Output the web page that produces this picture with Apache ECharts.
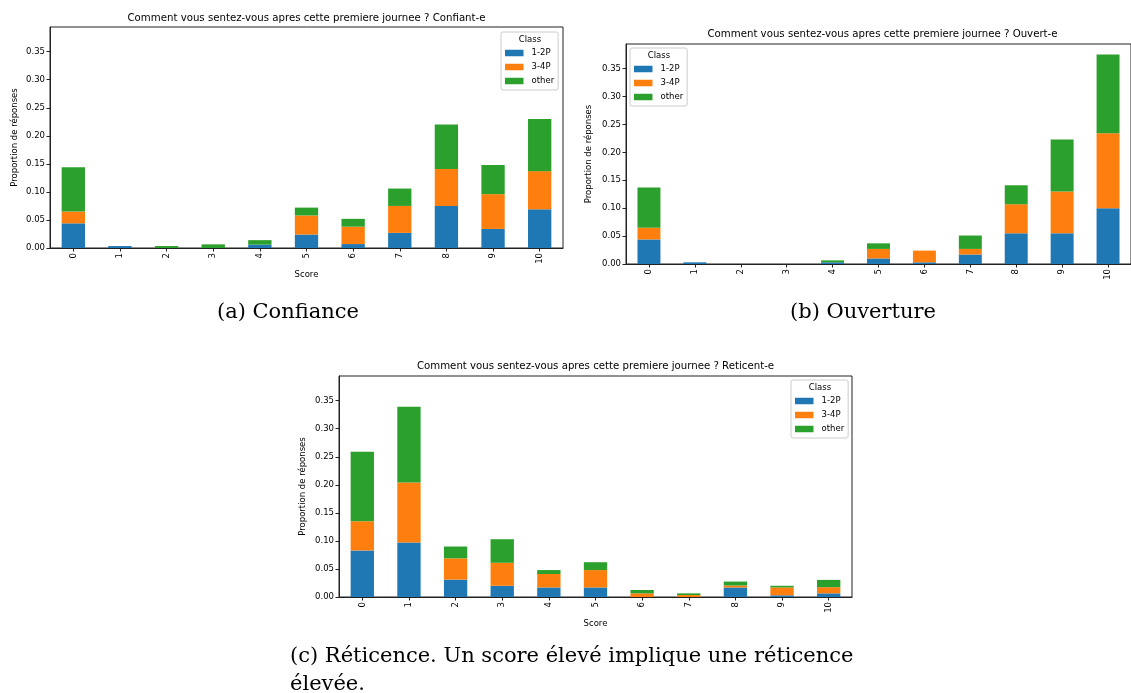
<!DOCTYPE html>
<html>
<head>
<meta charset="utf-8">
<script src="https://cdn.jsdelivr.net/npm/echarts@6/dist/echarts.min.js"></script>
<style>
html,body{margin:0;padding:0;background:#fff;}
#chart{width:1131px;height:693px;}
</style>
</head>
<body>
<div id="chart"></div>
<script>
// ---- data ----
const scores = ['0','1','2','3','4','5','6','7','8','9','10'];
const yTicks = [0, 0.05, 0.10, 0.15, 0.20, 0.25, 0.30, 0.35];
const yMax = 0.394;
const classNames = ['1-2P', '3-4P', 'other'];

const confiance_12P   = [0.044, 0.0035, 0, 0, 0.006, 0.024, 0.007, 0.027, 0.075, 0.034, 0.069];
const confiance_34P   = [0.021, 0, 0, 0, 0, 0.034, 0.031, 0.048, 0.066, 0.062, 0.068];
const confiance_other = [0.079, 0, 0.0035, 0.0065, 0.008, 0.014, 0.014, 0.031, 0.079, 0.052, 0.093];

const ouverture_12P   = [0.044, 0.003, 0, 0, 0.003, 0.010, 0.003, 0.017, 0.055, 0.055, 0.100];
const ouverture_34P   = [0.021, 0, 0, 0, 0, 0.017, 0.021, 0.010, 0.052, 0.075, 0.134];
const ouverture_other = [0.072, 0, 0, 0, 0.0035, 0.010, 0, 0.024, 0.034, 0.093, 0.141];

const reticence_12P   = [0.083, 0.097, 0.031, 0.020, 0.017, 0.017, 0, 0, 0.017, 0.003, 0.0065];
const reticence_34P   = [0.052, 0.107, 0.038, 0.041, 0.024, 0.031, 0.0065, 0.0035, 0.0035, 0.014, 0.011];
const reticence_other = [0.124, 0.135, 0.021, 0.042, 0.007, 0.014, 0.006, 0.003, 0.007, 0.003, 0.013];

const chartTitles = [
  'Comment vous sentez-vous apres cette premiere journee ? Confiant-e',
  'Comment vous sentez-vous apres cette premiere journee ? Ouvert-e',
  'Comment vous sentez-vous apres cette premiere journee ? Reticent-e'
];
const captions = ['(a) Confiance', '(b) Ouverture', '(c) Réticence. Un score élevé implique une réticence', 'élevée.'];

// ---- styling / layout ----
const colors = ['#1f77b4', '#ff7f0e', '#2ca02c'];
const SANS = 'DejaVu Sans';
const SERIF = 'DejaVu Serif';
const AX = '#222';
const grids = [
  {left: 50, top: 27, width: 513, height: 221},
  {left: 626, top: 44, width: 513, height: 220},
  {left: 339, top: 376, width: 513, height: 221}
];
const yNameGaps = [31, 33, 32];
const showXName = [true, false, true];
const legendPos = [{left: 501, top: 32}, {left: 630, top: 48}, {left: 791, top: 380}];
const datasets = [
  [confiance_12P, confiance_34P, confiance_other],
  [ouverture_12P, ouverture_34P, ouverture_other],
  [reticence_12P, reticence_34P, reticence_other]
];
const capStyle = {fontSize: 21, fontWeight: 'normal', color: '#000', fontFamily: SERIF};

const option = {
  animation: false,
  backgroundColor: '#fff',
  grid: grids.map(g => Object.assign({show: true, borderColor: AX, borderWidth: 1, backgroundColor: 'transparent'}, g)),
  xAxis: grids.map((g, i) => ({
    gridIndex: i, type: 'category', data: scores, boundaryGap: true,
    axisLine: {show: true, lineStyle: {color: AX, width: 1}},
    axisTick: {show: true, alignWithLabel: true, length: 3.5, lineStyle: {color: AX}},
    axisLabel: {rotate: 90, fontSize: 8.5, color: '#000', fontFamily: SANS, margin: 5, interval: 0},
    splitLine: {show: false},
    name: showXName[i] ? 'Score' : '', nameLocation: 'middle', nameGap: 22,
    nameTextStyle: {fontSize: 8.5, color: '#000', fontFamily: SANS}
  })),
  yAxis: grids.map((g, i) => ({
    gridIndex: i, type: 'value', min: 0, max: yMax, interval: 0.05,
    axisLine: {show: true, lineStyle: {color: AX, width: 1}},
    axisTick: {show: true, length: 3.5, customValues: yTicks, lineStyle: {color: AX}},
    axisLabel: {customValues: yTicks, formatter: v => v.toFixed(2), fontSize: 8.5, color: '#000', fontFamily: SANS, margin: 5},
    splitLine: {show: false},
    name: 'Proportion de réponses', nameLocation: 'middle', nameRotate: 90, nameGap: yNameGaps[i],
    nameTextStyle: {fontSize: 8.5, color: '#000', fontFamily: SANS}
  })),
  legend: legendPos.map(p => ({
    left: p.left, top: p.top, orient: 'vertical', data: classNames,
    icon: 'rect', itemWidth: 18.5, itemHeight: 6.5, itemGap: 4,
    padding: [16, 4, 4, 4],
    backgroundColor: 'rgba(255,255,255,0.8)', borderColor: '#cccccc', borderWidth: 1, borderRadius: 2,
    textStyle: {fontSize: 8.5, color: '#000', fontFamily: SANS, lineHeight: 10, padding: [0, 0, 0, 3]},
    selectedMode: false
  })),
  title: [
    ...chartTitles.map((t, i) => ({
      text: t, left: grids[i].left + grids[i].width / 2, top: [18, 34, 366][i], padding: 0,
      textAlign: 'center', textVerticalAlign: 'middle',
      textStyle: {fontSize: 10.2, fontWeight: 'normal', color: '#000', fontFamily: SANS}
    })),
    ...legendPos.map(p => ({
      text: 'Class', left: p.left + 29, top: p.top + 8, padding: 0,
      textAlign: 'center', textVerticalAlign: 'middle',
      textStyle: {fontSize: 8.5, fontWeight: 'normal', color: '#000', fontFamily: SANS}
    })),
    {text: captions[0], left: 288, top: 313, padding: 0, textAlign: 'center', textVerticalAlign: 'middle', textStyle: capStyle},
    {text: captions[1], left: 863, top: 313, padding: 0, textAlign: 'center', textVerticalAlign: 'middle', textStyle: capStyle},
    {text: captions[2], left: 290, top: 657, padding: 0, textAlign: 'left', textVerticalAlign: 'middle', textStyle: capStyle},
    {text: captions[3], left: 290, top: 685, padding: 0, textAlign: 'left', textVerticalAlign: 'middle', textStyle: capStyle}
  ],
  series: []
};

datasets.forEach((arrs, gi) => {
  arrs.forEach((vals, ci) => {
    option.series.push({
      type: 'bar', name: classNames[ci], xAxisIndex: gi, yAxisIndex: gi,
      stack: 'chart' + gi, data: vals, barWidth: '50%',
      itemStyle: {color: colors[ci]}, emphasis: {disabled: true}
    });
  });
});

const chart = echarts.init(document.getElementById('chart'));
chart.setOption(option);
</script>
</body>
</html>
